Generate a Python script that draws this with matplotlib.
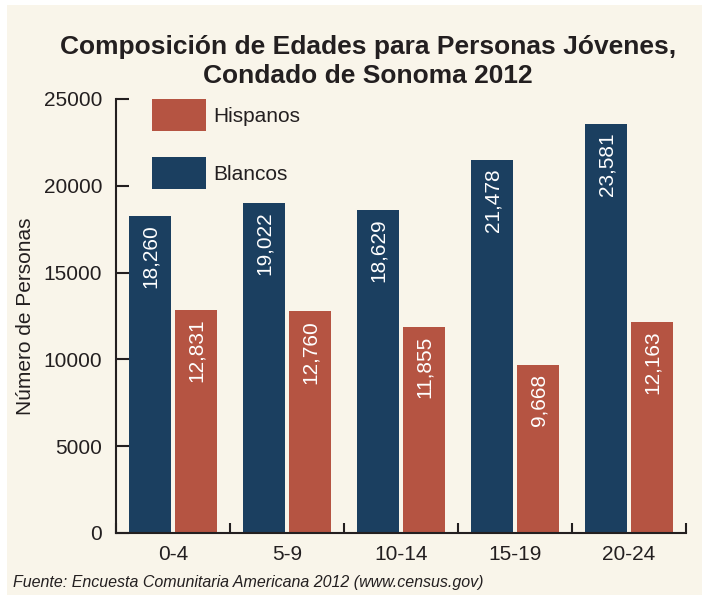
import matplotlib
matplotlib.use("Agg")
import matplotlib.pyplot as plt
import numpy as np
from matplotlib.patches import Rectangle

plt.rcParams['font.family'] = ['Liberation Sans', 'DejaVu Sans']

grupos = ['0-4', '5-9', '10-14', '15-19', '20-24']
blancos = [18260, 19022, 18629, 21478, 23581]
hispanos = [12831, 12760, 11855, 9668, 12163]
yticks = [0, 5000, 10000, 15000, 20000, 25000]

azul = '#1b3f60'
rojo = '#b55442'
fondo = '#f9f5ea'
texto = '#231f20'

fig = plt.figure(figsize=(7.02, 5.95), dpi=100)
fig.patch.set_facecolor('white')
# cream panel (thin white strip on left and top in the original)
fig.patches.append(Rectangle((7/702, 0), 1, (595-5)/595, transform=fig.transFigure,
                             facecolor=fondo, edgecolor='none', zorder=-10))

ax = fig.add_axes([116/702, 62/595, 570/702, 434/595])
ax.set_facecolor('none')

x = np.arange(len(grupos))
w = 0.368
b1 = ax.bar(x + 0.298, blancos, w, color=azul, label='Blancos', zorder=2)
b2 = ax.bar(x + 0.702, hispanos, w, color=rojo, label='Hispanos', zorder=2)

for bars, vals in [(b1, blancos), (b2, hispanos)]:
    for r, v in zip(bars, vals):
        ax.annotate(f"{v:,}", (r.get_x() + r.get_width()/2, v),
                    xytext=(0.5, -6), textcoords='offset points',
                    rotation=90, ha='center', va='top', color='white',
                    fontsize=15, zorder=3)

ax.set_xlim(0, 5)
ax.set_ylim(0, 25000)
ax.set_yticks(yticks)
ax.set_xticks(range(6))
ax.set_xticklabels([])
ax.set_xticks(x + 0.5, minor=True)
ax.set_xticklabels(grupos, minor=True)
ax.tick_params(axis='x', which='major', direction='in', length=7, width=1.5, color=texto)
ax.tick_params(axis='x', which='minor', length=0, pad=9, labelsize=15, labelcolor=texto)
ax.tick_params(axis='y', direction='in', length=9, width=1.5, color=texto,
               pad=10, labelsize=15, labelcolor=texto)
ax.set_axisbelow(True)

for s in ['top', 'right']:
    ax.spines[s].set_visible(False)
for s in ['left', 'bottom']:
    ax.spines[s].set_linewidth(1.5)
    ax.spines[s].set_color(texto)

ax.set_ylabel('Número de Personas', fontsize=15, color=texto, labelpad=6)

h, l = ax.get_legend_handles_labels()
ax.legend(h[::-1], l[::-1], loc='upper left', bbox_to_anchor=(36/570, 1.0),
          frameon=False, fontsize=15, handlelength=2.6, handleheight=2.0,
          labelspacing=1.25, handletextpad=0.35, borderaxespad=0, borderpad=0,
          labelcolor=texto)

fig.text(0.524, 0.897, 'Composición de Edades para Personas Jóvenes,\nCondado de Sonoma 2012',
         ha='center', va='center', fontsize=19, fontweight='bold', color=texto,
         linespacing=1.25)

fig.text(13/702, 1 - 583/595, 'Fuente: Encuesta Comunitaria Americana 2012 (www.census.gov)',
         ha='left', va='center', fontsize=11.5, style='italic', color=texto)

fig.savefig('out.png', dpi=100, facecolor=fig.get_facecolor())
